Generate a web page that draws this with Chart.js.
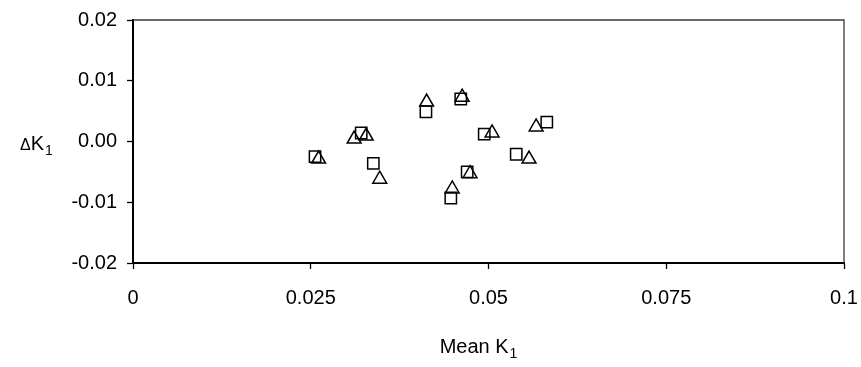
<!DOCTYPE html>
<html>
<head>
<meta charset="utf-8">
<script src="https://cdn.jsdelivr.net/npm/chart.js@4.4.1/dist/chart.umd.min.js"></script>
<style>
  html, body { margin: 0; padding: 0; background: #fff; }
  #wrap { width: 861px; height: 367px; }
</style>
</head>
<body>
<div id="wrap"><canvas id="chart" width="861" height="367"></canvas></div>
<script>
// --- data ---
const squaresX = [0.0256, 0.0321, 0.0338, 0.0412, 0.0461, 0.0494, 0.0582, 0.0539, 0.0470, 0.0447];
const squaresY = [-0.0025, 0.0014, -0.0036, 0.0049, 0.0070, 0.0012, 0.0032, -0.0021, -0.0050, -0.0093];
const trianglesX = [0.0261, 0.0311, 0.0328, 0.0347, 0.0413, 0.0463, 0.0505, 0.0567, 0.0557, 0.0474, 0.0449];
const trianglesY = [-0.0029, 0.0004, 0.0009, -0.0062, 0.0065, 0.0073, 0.0014, 0.0024, -0.0029, -0.0053, -0.0078];
const xTickLabels = ['0', '0.025', '0.05', '0.075', '0.1'];
const yTickLabels = ['-0.02', '-0.01', '0.00', '0.01', '0.02'];

const FONT = 'Arial, "Liberation Sans", sans-serif';

function toPoints(xs, ys) {
    return xs.map((x, i) => ({ x: x, y: ys[i] }));
}

// frame on top/right plus the two axis titles (horizontal, with subscripts)
const extras = {
    id: 'extras',
    afterDraw(chart) {
        const { ctx, chartArea: a } = chart;
        ctx.save();
        ctx.strokeStyle = '#3a3a3a';
        ctx.lineWidth = 1.3;
        ctx.beginPath();
        ctx.moveTo(a.left, a.top);
        ctx.lineTo(a.right, a.top);
        ctx.lineTo(a.right, a.bottom);
        ctx.stroke();

        ctx.fillStyle = '#000';
        ctx.textBaseline = 'alphabetic';
        ctx.textAlign = 'left';

        // y title: ΔK1
        ctx.font = '16px ' + FONT;
        ctx.fillText('\u0394', 20, 150);
        let w = ctx.measureText('\u0394').width;
        ctx.font = '20px ' + FONT;
        ctx.fillText('K', 20 + w, 150);
        w += ctx.measureText('K').width;
        ctx.font = '14px ' + FONT;
        ctx.fillText('1', 20 + w + 1, 155);

        // x title: Mean K1
        ctx.font = '20px ' + FONT;
        const main = 'Mean K';
        const mw = ctx.measureText(main).width;
        ctx.font = '14px ' + FONT;
        const sw = ctx.measureText('1').width;
        const x0 = 478 - (mw + sw) / 2;
        ctx.font = '20px ' + FONT;
        ctx.fillText(main, x0, 353);
        ctx.font = '14px ' + FONT;
        ctx.fillText('1', x0 + mw + 1, 358);
        ctx.restore();
    }
};

const ctx = document.getElementById('chart').getContext('2d');
const chart = new Chart(ctx, {
    type: 'scatter',
    data: {
        datasets: [{
            label: 'squares',
            data: toPoints(squaresX, squaresY),
            pointStyle: 'rect',
            pointRadius: 8,
            borderColor: '#000',
            backgroundColor: 'rgba(0,0,0,0)',
            borderWidth: 1.5
        }, {
            label: 'triangles',
            data: toPoints(trianglesX, trianglesY),
            pointStyle: 'triangle',
            pointRadius: 8,
            borderColor: '#000',
            backgroundColor: 'rgba(0,0,0,0)',
            borderWidth: 1.5
        }]
    },
    options: {
        responsive: false,
        animation: false,
        layout: { padding: { left: 0, right: 17, top: 20, bottom: 0 } },
        plugins: {
            legend: { display: false },
            tooltip: { enabled: false }
        },
        scales: {
            x: {
                type: 'linear',
                min: 0,
                max: 0.1,
                afterFit: (s) => {
                    s.height = 104;
                    s.paddingLeft = 0;
                    s.paddingRight = 0;
                },
                afterBuildTicks: (s) => {
                    s.ticks = xTickLabels.map(v => ({ value: parseFloat(v) }));
                },
                ticks: {
                    color: '#000',
                    font: { family: FONT, size: 20 },
                    padding: 17,
                    maxRotation: 0,
                    callback: (v, i) => xTickLabels[i]
                },
                grid: { drawOnChartArea: false, color: '#000', tickLength: 6, tickWidth: 1.3 },
                border: { color: '#000', width: 2 }
            },
            y: {
                type: 'linear',
                min: -0.02,
                max: 0.02,
                afterFit: (s) => {
                    s.width = 133;
                    s.paddingTop = 0;
                    s.paddingBottom = 0;
                },
                afterBuildTicks: (s) => {
                    s.ticks = yTickLabels.map(v => ({ value: parseFloat(v) }));
                },
                ticks: {
                    color: '#000',
                    font: { family: FONT, size: 20 },
                    padding: 10,
                    callback: (v, i) => yTickLabels[i]
                },
                grid: { drawOnChartArea: false, color: '#000', tickLength: 6, tickWidth: 1.3 },
                border: { color: '#000', width: 2 }
            }
        }
    },
    plugins: [extras]
});
</script>
</body>
</html>
